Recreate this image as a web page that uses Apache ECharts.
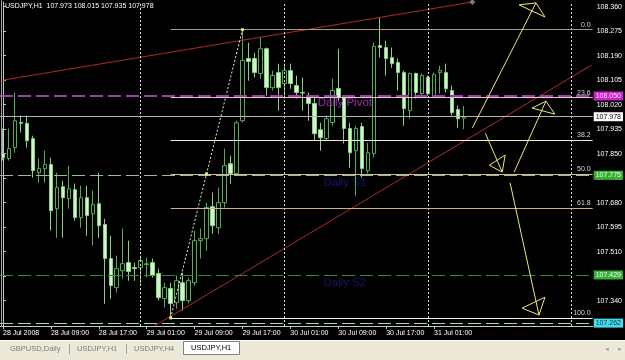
<!DOCTYPE html>
<html><head><meta charset="utf-8">
<script src="https://cdn.jsdelivr.net/npm/echarts@6/dist/echarts.min.js"></script>
<style>html,body{margin:0;padding:0;background:#000}#c{width:625px;height:360px}</style>
</head><body><div id="c"></div>
<script>
// ---- data (USDJPY, H1) ----
const symbolName = "USDJPY,H1";
const opens  = [107.850,107.833,107.871,107.958,107.955,107.902,107.784,107.798,107.812,107.659,107.735,107.694,107.725,107.628,107.697,107.642,107.676,107.604,107.486,107.385,107.444,107.472,107.455,107.454,107.465,107.472,107.434,107.347,107.382,107.333,107.402,107.340,107.402,107.548,107.555,107.666,107.593,107.680,107.815,107.781,107.964,108.180,108.180,108.128,108.214,108.079,108.131,108.093,108.138,108.086,108.062,108.051,108.024,107.933,107.902,107.958,108.076,108.044,107.937,107.860,107.944,107.791,107.850,108.225,108.218,108.183,108.166,108.131,107.999,108.128,108.058,108.114,108.051,108.131,108.131,108.069,108.003,107.973];
const highs  = [107.937,107.937,108.062,107.982,107.982,107.912,107.833,107.860,107.836,107.784,107.756,107.808,107.746,107.739,107.739,107.722,107.784,107.624,107.565,107.496,107.590,107.548,107.472,107.496,107.489,107.486,107.451,107.402,107.402,107.427,107.437,107.420,107.583,107.590,107.680,107.715,107.732,107.867,107.843,107.964,108.280,108.235,108.200,108.252,108.218,108.138,108.162,108.162,108.162,108.121,108.114,108.062,108.044,107.957,107.982,108.110,108.214,108.048,107.957,107.947,107.957,107.888,108.235,108.322,108.242,108.218,108.180,108.138,108.131,108.131,108.128,108.121,108.131,108.155,108.162,108.086,108.017,108.015];
const lows   = [107.826,107.826,107.853,107.923,107.871,107.767,107.749,107.749,107.583,107.558,107.558,107.659,107.617,107.593,107.565,107.531,107.558,107.329,107.347,107.368,107.416,107.409,107.409,107.399,107.420,107.420,107.340,107.316,107.280,107.312,107.305,107.330,107.392,107.486,107.513,107.572,107.572,107.663,107.746,107.774,107.958,108.103,108.114,108.110,108.051,108.069,107.999,108.041,108.075,108.041,107.999,107.964,107.895,107.860,107.895,107.947,108.034,107.885,107.801,107.704,107.767,107.781,107.836,108.183,108.121,108.148,108.069,107.947,107.971,108.041,108.044,108.051,108.044,108.058,108.062,107.982,107.940,107.935];
const closes = [107.836,107.867,107.964,107.955,107.895,107.791,107.798,107.812,107.652,107.732,107.697,107.728,107.628,107.697,107.635,107.673,107.600,107.486,107.392,107.451,107.468,107.441,107.451,107.479,107.468,107.427,107.350,107.385,107.330,107.409,107.340,107.409,107.548,107.555,107.663,107.600,107.680,107.808,107.781,107.957,108.173,108.170,108.131,108.214,108.079,108.121,108.079,108.138,108.093,108.062,108.060,108.024,107.919,107.905,107.971,108.069,108.044,107.937,107.853,107.937,107.798,107.853,108.222,108.218,108.180,108.162,108.131,108.006,108.128,108.062,108.121,108.058,108.124,108.138,108.075,107.992,107.971,107.978];

const slotCount = 99;                 // hourly slots shown on the time axis
const xTickEvery = 8;
const xTickLabels = ["28 Jul 2008","28 Jul 09:00","28 Jul 17:00","29 Jul 01:00","29 Jul 09:00","29 Jul 17:00","30 Jul 01:00","30 Jul 09:00","30 Jul 17:00","31 Jul 01:00"];
const yTicks = [107.340,107.425,107.510,107.595,107.680,107.765,107.850,107.935,108.020,108.105,108.190,108.275,108.360];
const daySeparators = [23, 47, 71, 95];

// levels
const pivot = 108.050, s1 = 107.775, s2 = 107.429, bid = 107.978, lowLine = 107.262;
const fibStartBar = 28, fibEndBar = 40, fibLow = 107.280, fibHigh = 108.280;
const fibNames = ["0.0","23.6","38.2","50.0","61.8","100.0"];
const fibLevels = [108.280,108.044,107.898,107.780,107.662,107.280];
const fibColors = ["#a89c84","#e6c6cc","#eeeed2","#d8b890","#ccb488","#f4eedc"];

// trend lines [bar, price]
const redUpper = [[0.0,108.105],[78.4,108.376]];
const redLower = [[25.3,107.252],[98.3,108.157]];
const arrowLines = [
  [[78.40,107.939],[89.03,108.373]],
  [[80.56,107.921],[83.38,107.786]],
  [[85.38,107.786],[90.69,108.032]],
  [[84.71,107.748],[89.53,107.290]]
];
const arrowHeads = [
  [[86.21,108.366],[90.53,108.324],[89.03,108.373],[86.21,108.366]],
  [[81.23,107.810],[83.88,107.845],[83.38,107.786],[81.23,107.810]],
  [[88.37,108.008],[90.69,108.032],[92.19,107.987],[88.37,108.008]],
  [[86.71,107.314],[90.53,107.352],[89.53,107.290],[86.71,107.314]]
];
const levelTextBar = 57.1;

// ---- chart ----
const FONT = "Liberation Sans";
const categories = [];
for (let i = 0; i < slotCount; i++) categories.push(String(i));
const candleData = opens.map((o, i) => [o, closes[i], lows[i], highs[i]]);
const showTick = (idx) => idx % xTickEvery === 0 && idx / xTickEvery < xTickLabels.length;

function seg(points, color, type, width, z) {
  return {type:'line', xAxisIndex:1, yAxisIndex:0, data:points, symbol:'none', showSymbol:false,
    lineStyle:{color:color, width:width, type:type}, z:z, silent:true, clip:true, animation:false};
}
function boxLabel(val, bg, fg) {
  const txt = val.toFixed(3);
  return {show:true, position:'end', distance:1, formatter:()=>txt,
    backgroundColor:bg, color:fg, fontSize:7, fontFamily:FONT, padding:[1,2,1,2]};
}

const markData = [];
daySeparators.forEach(b => markData.push({xAxis:b, lineStyle:{color:'#e0e0e0', type:[2,2], width:1}, label:{show:false}}));
markData.push({yAxis:pivot, lineStyle:{color:'#a03cb0', type:[13,5], width:2}, label:boxLabel(pivot,'#cc22cc','#ffd8ff')});
markData.push({yAxis:bid, lineStyle:{color:'#b4b4b4', type:'solid', width:1}, label:boxLabel(bid,'#ffffff','#000000')});
markData.push({yAxis:s1, lineStyle:{color:'#9cbc9c', type:[13,5], width:1}, label:boxLabel(s1,'#34b034','#f0fff0')});
markData.push({yAxis:s2, lineStyle:{color:'#3c843c', type:[13,5], width:1}, label:boxLabel(s2,'#34b034','#f0fff0')});
markData.push({yAxis:lowLine, lineStyle:{color:'#a8d4e4', type:[13,5], width:1}, label:boxLabel(lowLine,'#44dde6','#103060')});
fibLevels.forEach((lv, i) => markData.push([
  {coord:[fibStartBar, lv], lineStyle:{color:fibColors[i], type:'solid', width:1},
   label:{show:true, position:'insideEndTop', distance:[2,1], formatter:fibNames[i], color:'#d8d8d8', fontSize:7, fontFamily:FONT}},
  {coord:[98.5, lv]}
]));

const series = [
  {type:'line', xAxisIndex:1, yAxisIndex:0, data:[], z:3, silent:true,
   markLine:{silent:true, symbol:['none','none'], animation:false, precision:3, data:markData}},
  {type:'candlestick', xAxisIndex:0, yAxisIndex:0, data:candleData, barWidth:4, z:2,
   itemStyle:{color:'#000000', color0:'#d0f4ca', borderColor:'#56ac56', borderColor0:'#8ccf88', borderWidth:1}},
  seg(redUpper, '#b42a2a', 'solid', 1, 4),
  seg(redLower, '#b42a2a', 'solid', 1, 4),
  seg([[fibStartBar, fibLow],[fibEndBar, fibHigh]], '#f2f2c4', [2,2], 1, 4),
  {type:'scatter', xAxisIndex:1, yAxisIndex:0, symbol:'rect', symbolSize:3, z:5, silent:true,
   itemStyle:{color:'#ffff90'},
   data:[[fibStartBar, fibLow],[fibEndBar, fibHigh],[(fibStartBar+fibEndBar)/2, (fibLow+fibHigh)/2]]},
  {type:'scatter', xAxisIndex:1, yAxisIndex:0, symbol:'diamond', symbolSize:6, z:5, silent:true,
   itemStyle:{color:'#9a9aaa'}, data:[redUpper[1]]}
];
arrowLines.forEach(a => series.push(seg(a, '#eaea78', 'solid', 1, 5)));
arrowHeads.forEach(a => series.push(seg(a, '#eaea78', 'solid', 1, 5)));

const option = {
  backgroundColor:'#000000',
  animation:false,
  textStyle:{fontFamily:FONT},
  grid:{left:0, right:29, top:2, bottom:34},
  xAxis:[
    {type:'category', data:categories, boundaryGap:true,
     axisLine:{show:true, lineStyle:{color:'#c8c8c8', width:1}},
     axisTick:{show:true, alignWithLabel:true, interval:showTick, length:3, lineStyle:{color:'#c8c8c8'}},
     axisLabel:{interval:showTick, formatter:(v, idx)=> xTickLabels[idx / xTickEvery] || '', color:'#ffffff',
       fontSize:7, fontFamily:FONT, align:'left', margin:4},
     splitLine:{show:false}},
    {type:'value', min:-0.5, max:slotCount - 0.5, show:false}
  ],
  yAxis:[
    {type:'value', position:'right', min:107.252, max:108.376,
     axisLine:{show:true, lineStyle:{color:'#c8c8c8', width:1}},
     axisTick:{show:true, length:3, customValues:yTicks, lineStyle:{color:'#c8c8c8'}},
     axisLabel:{customValues:yTicks, formatter:(v)=>v.toFixed(3), color:'#ffffff', fontSize:7, fontFamily:FONT, margin:4},
     splitLine:{show:false}}
  ],
  series:series
};

const chart = echarts.init(document.getElementById('c'), null, {renderer:'canvas'});
chart.setOption(option);

const px = (b, v) => chart.convertToPixel({xAxisIndex:1, yAxisIndex:0}, [b, v]);
const pPiv = px(levelTextBar, pivot), pS1 = px(levelTextBar, s1), pS2 = px(levelTextBar, s2);
const last = opens.length - 1;
const headerText = symbolName + "  " + opens[last].toFixed(3) + " " + highs[last].toFixed(3) + " " + lows[last].toFixed(3) + " " + closes[last].toFixed(3);

const tabY = 340;
chart.setOption({graphic:[
  {type:'text', z:6, x:pPiv[0], y:pPiv[1]+1, style:{text:'Daily Pivot', fill:'#9a2eaa', font:'11.5px "Liberation Sans"', textAlign:'center', textVerticalAlign:'top'}},
  {type:'text', z:0, x:pS1[0], y:pS1[1]+2, style:{text:'Daily S1', fill:'#16166e', font:'11.5px "Liberation Sans"', textAlign:'center', textVerticalAlign:'top'}},
  {type:'text', z:0, x:pS2[0], y:pS2[1]+2, style:{text:'Daily S2', fill:'#16166e', font:'11.5px "Liberation Sans"', textAlign:'center', textVerticalAlign:'top'}},
  {type:'text', z:10, x:5, y:3, style:{text:headerText, fill:'#ffffff', font:'7px "Liberation Sans"', textVerticalAlign:'top'}},
  {type:'line', z:10, shape:{x1:1.5, y1:0, x2:1.5, y2:326}, style:{stroke:'#a0a0a0', lineWidth:1}},
  {type:'rect', z:10, shape:{x:0, y:tabY, width:625, height:20}, style:{fill:'#ece9d8'}},
  {type:'rect', z:10, shape:{x:0, y:tabY, width:625, height:1}, style:{fill:'#ffffff'}},
  {type:'text', z:11, x:10, y:tabY+9, style:{text:'GBPUSD,Daily', fill:'#7c7c7c', font:'7.5px "Liberation Sans"', textVerticalAlign:'middle'}},
  {type:'line', z:11, shape:{x1:69.5, y1:tabY+4, x2:69.5, y2:tabY+14}, style:{stroke:'#a0a0a0', lineWidth:1}},
  {type:'text', z:11, x:77, y:tabY+9, style:{text:'USDJPY,H1', fill:'#7c7c7c', font:'7.5px "Liberation Sans"', textVerticalAlign:'middle'}},
  {type:'line', z:11, shape:{x1:126.5, y1:tabY+4, x2:126.5, y2:tabY+14}, style:{stroke:'#a0a0a0', lineWidth:1}},
  {type:'text', z:11, x:134, y:tabY+9, style:{text:'USDJPY,H4', fill:'#7c7c7c', font:'7.5px "Liberation Sans"', textVerticalAlign:'middle'}},
  {type:'rect', z:11, shape:{x:183.5, y:tabY+1.5, width:56, height:13}, style:{fill:'#ffffff', stroke:'#808080', lineWidth:1}},
  {type:'text', z:12, x:191, y:tabY+8, style:{text:'USDJPY,H1', fill:'#000000', font:'7.5px "Liberation Sans"', textVerticalAlign:'middle'}},
  {type:'text', z:11, x:607, y:tabY+9, style:{text:'◂', fill:'#a0a0a0', font:'7px "DejaVu Sans"', textAlign:'center', textVerticalAlign:'middle'}},
  {type:'text', z:11, x:620, y:tabY+9, style:{text:'▸', fill:'#a0a0a0', font:'7px "DejaVu Sans"', textAlign:'center', textVerticalAlign:'middle'}}
]});
</script>
</body></html>
